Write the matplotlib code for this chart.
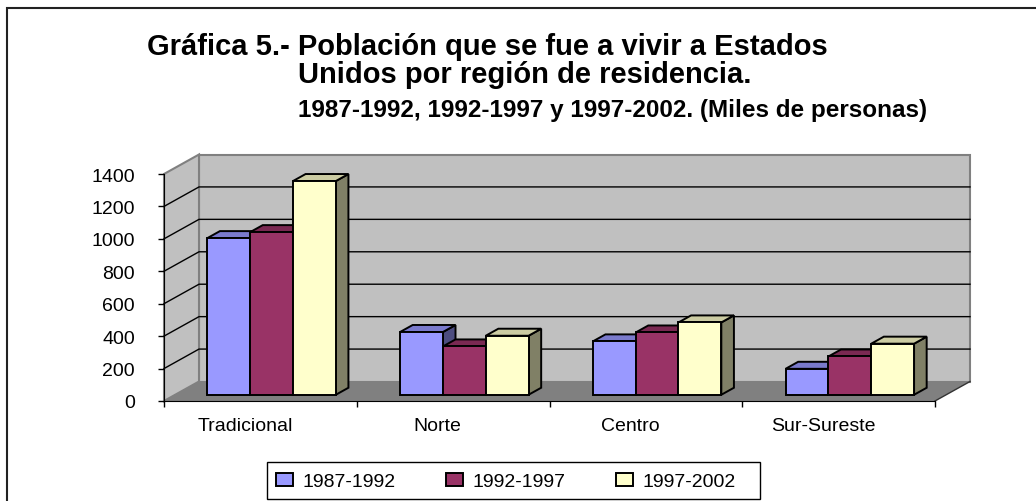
import numpy as np
import matplotlib.pyplot as plt
from matplotlib.patches import Polygon, Rectangle, Patch
from matplotlib.lines import Line2D

plt.rcParams['font.family'] = ['Liberation Sans', 'DejaVu Sans']

categories = ['Tradicional', 'Norte', 'Centro', 'Sur-Sureste']
periods = ['1987-1992', '1992-1997', '1997-2002']
v_1987_1992 = [966, 387, 329, 160]
v_1992_1997 = [1003, 298, 384, 236]
v_1997_2002 = [1318, 364, 446, 315]
yticks = [0, 200, 400, 600, 800, 1000, 1200, 1400]

series = [v_1987_1992, v_1992_1997, v_1997_2002]
front_c = ['#9999FF', '#993366', '#FFFFCC']
top_c = ['#7A7ACC', '#7A2952', '#CCCCA3']
side_c = ['#4D4D80', '#4D1A33', '#808066']

W, H = 1036, 502
fig = plt.figure(figsize=(W / 100, H / 100), dpi=100)

# outer frame of the chart area
fig.patches.append(Rectangle((7 / W, -0.2), 1.2, (H - 9) / H + 0.2,
                             transform=fig.transFigure, fill=False,
                             ec='#222222', lw=1.5))

ax = fig.add_axes([164 / W, (H - 402) / H, 771 / W, 227 / H])
ax.set_xlim(0, len(categories))
ax.set_ylim(0, 1400)
ax.patch.set_visible(False)
for s in ['top', 'right']:
    ax.spines[s].set_visible(False)
ax.spines['left'].set_color('black')
ax.spines['bottom'].set_color('black')
ax.spines['left'].set_zorder(5)
ax.spines['bottom'].set_zorder(5)

# 3d depth in data units (35 px right, 19.5 px up)
DXU = 35 / (771 / len(categories))
DYU = 19.5 / (227 / 1400)


def P(x, y, d):
    return (x + d * DXU, y + d * DYU)


ymax = yticks[-1]
ncat = len(categories)
wall_kw = dict(fc='#C0C0C0', ec='#808080', lw=1.5, clip_on=False, zorder=0.5)
ax.add_patch(Polygon([P(0, 0, 1), P(ncat, 0, 1), P(ncat, ymax, 1), P(0, ymax, 1)], **wall_kw))
ax.add_patch(Polygon([P(0, 0, 0), P(0, ymax, 0), P(0, ymax, 1), P(0, 0, 1)], **wall_kw))
ax.add_patch(Polygon([P(0, 0, 0), P(ncat, 0, 0), P(ncat, 0, 1), P(0, 0, 1)],
                     fc='#808080', ec='none', clip_on=False, zorder=0.6))
fr = [P(ncat, 0, 0), P(ncat, 0, 1)]
ax.add_line(Line2D([fr[0][0], fr[1][0]], [fr[0][1], fr[1][1]], color='#333333',
                   lw=1, clip_on=False, zorder=0.7))

for v in yticks[1:-1]:
    a, b, c = P(0, v, 0), P(0, v, 1), P(ncat, v, 1)
    ax.add_line(Line2D([a[0], b[0], c[0]], [a[1], b[1], c[1]], color='black',
                       lw=1, clip_on=False, zorder=0.8))

# bars
w = 1 / 4.5
margin = (1 - 3 * w) / 2
d0, d1 = 0.32, 0.68
z = 2
for i in range(ncat):
    for j, vals in enumerate(series):
        x0 = i + margin + j * w
        x1 = x0 + w
        h = vals[i]
        side = [P(x1, 0, d0), P(x1, 0, d1), P(x1, h, d1), P(x1, h, d0)]
        top = [P(x0, h, d0), P(x1, h, d0), P(x1, h, d1), P(x0, h, d1)]
        front = [P(x0, 0, d0), P(x1, 0, d0), P(x1, h, d0), P(x0, h, d0)]
        for poly, col in [(side, side_c[j]), (top, top_c[j]), (front, front_c[j])]:
            ax.add_patch(Polygon(poly, fc=col, ec='black', lw=1.4,
                                 joinstyle='miter', clip_on=False, zorder=z))
            z += 0.01

ax.set_yticks(yticks)
ax.set_yticklabels([str(t) for t in yticks], fontsize=14)
ax.set_xticks(range(ncat + 1))
ax.set_xticklabels([])
ax.tick_params(axis='y', direction='out', length=4.3, width=1, pad=16.6)
ax.tick_params(axis='x', direction='out', length=4.3, width=1)

for i, name in enumerate(categories):
    ax.text(i + 0.5 - 0.08, -29 / 227, name, transform=ax.get_xaxis_transform(),
            ha='center', va='baseline', fontsize=14)

# title
fig.text(147 / W, (H - 55) / H, 'Gráfica 5.- Población que se fue a vivir a Estados',
         fontsize=21, fontweight='bold', ha='left', va='baseline')
fig.text(298 / W, (H - 83) / H, 'Unidos por región de residencia.',
         fontsize=21, fontweight='bold', ha='left', va='baseline')
fig.text(298 / W, (H - 117) / H, '1987-1992, 1992-1997 y 1997-2002. (Miles de personas)',
         fontsize=17.5, fontweight='bold', ha='left', va='baseline')

# legend
fig.patches.append(Rectangle((267 / W, 2 / H), (760 - 267) / W, 37 / H,
                             transform=fig.transFigure, fill=False, ec='black', lw=1))
handles = [Patch(fc=front_c[j], ec='black', lw=1.4) for j in range(3)]
fig.legend(handles, periods, loc='lower left', bbox_to_anchor=(267 / W, 2 / H),
           ncol=3, fontsize=14, frameon=False,
           borderaxespad=0, handlelength=0.87, handleheight=0.6,
           handletextpad=0.5, columnspacing=2.6, borderpad=0.45)

fig.savefig('out.png', dpi=100)
